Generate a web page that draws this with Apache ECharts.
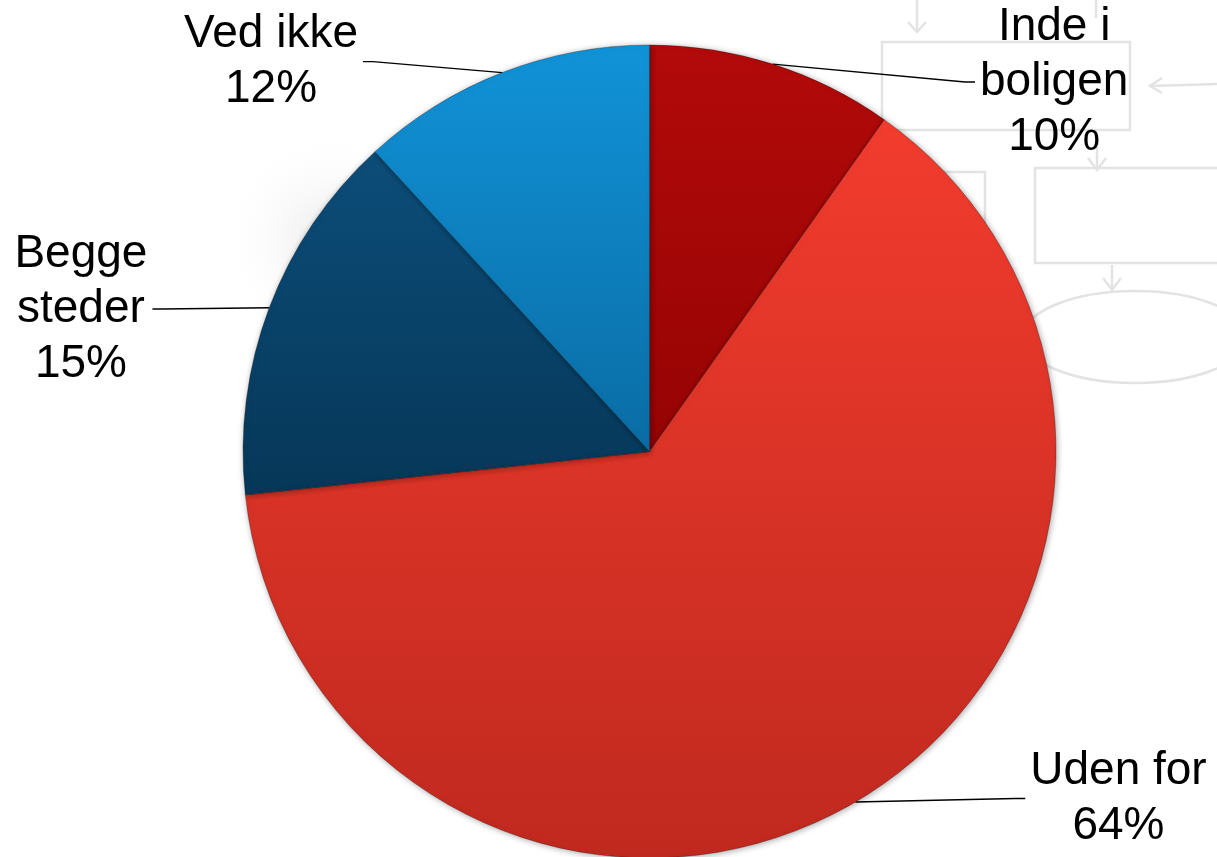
<!DOCTYPE html>
<html>
<head>
<meta charset="utf-8">
<script src="https://cdn.jsdelivr.net/npm/echarts@6/dist/echarts.min.js"></script>
<style>
  html, body { margin: 0; padding: 0; background: #fff; }
  #chart { width: 1217px; height: 857px; }
</style>
</head>
<body>
<div id="chart"></div>
<script>
// kategorier i urets retning fra kl. 12
const categories = ['Inde i\nboligen', 'Uden for', 'Begge\nsteder', 'Ved ikke'];
const shares = [9.8, 63.5, 14.9, 11.8];

// farver (top -> bund af hver skive)
const sliceColors = [
  ['#b30a0a', '#960303'],
  ['#f23c2e', '#c0291f'],
  ['#0c4d79', '#063758'],
  ['#1193d8', '#0a6ca4']
];
// label-linjernes længder, så teksten står som i originalen
const lineLengths = [[-18.8, 208], [-4.1, 172], [-3.4, 120], [11.8, 135]];

const chart = echarts.init(document.getElementById('chart'));

const sketch = { fill: 'none', stroke: '#e3e3e3', lineWidth: 2.5 };

const option = {
  backgroundColor: '#ffffff',
  animation: false,
  graphic: [
    // svag grå skygge i baggrunden til venstre
    {
      type: 'ellipse', z: -20, shape: { cx: 330, cy: 240, rx: 110, ry: 220 },
      style: {
        fill: new echarts.graphic.RadialGradient(0.5, 0.5, 0.5, [
          { offset: 0, color: 'rgba(225,225,225,0.7)' },
          { offset: 1, color: 'rgba(255,255,255,0)' }
        ])
      }
    },
    { type: 'rect', z: -10, shape: { x: 882, y: 42, width: 248, height: 88 }, style: sketch },
    { type: 'rect', z: -10, shape: { x: 1035, y: 168, width: 200, height: 95 }, style: sketch },
    { type: 'rect', z: -10, shape: { x: 915, y: 172, width: 70, height: 90 }, style: sketch },
    { type: 'ellipse', z: -10, shape: { cx: 1135, cy: 337, rx: 112, ry: 46 }, style: sketch },
    { type: 'polyline', z: -10, shape: { points: [[917, 0], [917, 32]] }, style: sketch },
    { type: 'polyline', z: -10, shape: { points: [[908, 22], [917, 32], [926, 22]] }, style: sketch },
    { type: 'polyline', z: -10, shape: { points: [[1096, 0], [1096, 18]] }, style: sketch },
    { type: 'polyline', z: -10, shape: { points: [[1097, 140], [1097, 170]] }, style: sketch },
    { type: 'polyline', z: -10, shape: { points: [[1088, 158], [1097, 170], [1106, 158]] }, style: sketch },
    { type: 'polyline', z: -10, shape: { points: [[1112, 265], [1112, 290]] }, style: sketch },
    { type: 'polyline', z: -10, shape: { points: [[1103, 278], [1112, 290], [1121, 278]] }, style: sketch },
    { type: 'polyline', z: -10, shape: { points: [[1150, 86], [1217, 84]] }, style: sketch },
    { type: 'polyline', z: -10, shape: { points: [[1162, 78], [1150, 86], [1162, 93]] }, style: sketch }
  ],
  series: [{
    type: 'pie',
    center: [649.5, 451.5],
    radius: 406.5,
    startAngle: 90,
    clockwise: true,
    avoidLabelOverlap: false,
    silent: true,
    itemStyle: {
      borderColor: 'rgba(0,0,0,0.28)',
      borderWidth: 1,
      shadowBlur: 6,
      shadowColor: 'rgba(0,0,0,0.35)',
      shadowOffsetX: 1,
      shadowOffsetY: 1
    },
    label: {
      show: true,
      position: 'outside',
      fontFamily: '"Liberation Sans", Arial, sans-serif',
      fontSize: 46,
      lineHeight: 55,
      color: '#000',
      formatter: p => p.name + '\n' + Math.round(p.value) + '%'
    },
    labelLine: {
      show: true,
      lineStyle: { color: '#000', width: 1.4 }
    },
    labelLayout: function (params) {
      const pts = params.labelLinePoints;
      const rect = params.labelRect;
      const end = pts[2];
      const onLeft = end[0] < pts[0][0];
      return {
        x: rect.x + rect.width / 2,
        align: 'center',
        labelLinePoints: [pts[0], [end[0] + (onLeft ? 10 : -10), end[1]], end]
      };
    },
    data: categories.map((name, i) => ({
      name: name,
      value: shares[i],
      itemStyle: {
        color: new echarts.graphic.LinearGradient(0, 0, 0, 1, [
          { offset: 0, color: sliceColors[i][0] },
          { offset: 1, color: sliceColors[i][1] }
        ])
      },
      labelLine: { length: lineLengths[i][0], length2: lineLengths[i][1] }
    }))
  }]
};

chart.setOption(option);
</script>
</body>
</html>
